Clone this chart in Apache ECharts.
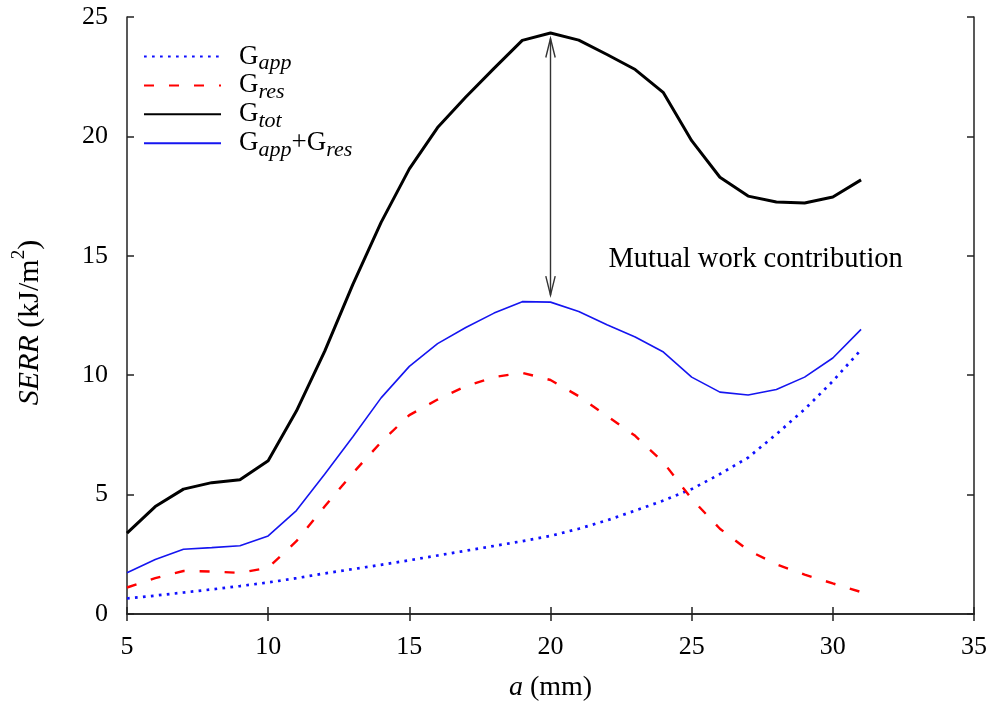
<!DOCTYPE html>
<html>
<head>
<meta charset="utf-8">
<script src="https://cdn.jsdelivr.net/npm/echarts@6/dist/echarts.min.js"></script>
<style>
  html, body { margin: 0; padding: 0; background: #fff; }
  #chart { width: 997px; height: 707px; }
</style>
</head>
<body>
<div id="chart"></div>
<script>
// crack length a (mm)
const crackLength = [5, 6, 7, 8, 9, 10, 11, 12, 13, 14, 15, 16, 17, 18, 19, 20,
                     21, 22, 23, 24, 25, 26, 27, 28, 29, 30, 31];
// strain energy release rates (kJ/m^2)
const gApp = [0.65, 0.77, 0.9, 1.03, 1.17, 1.32, 1.5, 1.7, 1.88, 2.06, 2.25, 2.45, 2.65, 2.85, 3.05, 3.27,
              3.57, 3.92, 4.33, 4.75, 5.23, 5.86, 6.55, 7.53, 8.57, 9.75, 11.07];
const gRes = [1.11, 1.5, 1.8, 1.78, 1.72, 1.94, 3.05, 4.5, 5.9, 7.2, 8.33, 8.98, 9.54, 9.92, 10.1, 9.8,
              9.12, 8.29, 7.46, 6.35, 4.82, 3.57, 2.67, 2.08, 1.65, 1.28, 0.92];
const gTot = [3.39, 4.5, 5.23, 5.5, 5.62, 6.42, 8.5, 11.0, 13.8, 16.4, 18.64, 20.37, 21.65, 22.85, 24.02, 24.33,
              24.03, 23.43, 22.8, 21.83, 19.82, 18.29, 17.5, 17.25, 17.21, 17.46, 18.18];
const gSum = [1.73, 2.28, 2.71, 2.78, 2.86, 3.27, 4.33, 5.85, 7.42, 9.05, 10.37, 11.32, 12.0, 12.6, 13.08, 13.06,
              12.67, 12.11, 11.6, 10.97, 9.92, 9.29, 9.17, 9.4, 9.92, 10.72, 11.92];

const seriesNames = ['G_app', 'G_res', 'G_tot', 'G_app+G_res'];
const xTicks = [5, 10, 15, 20, 25, 30, 35];
const yTicks = [0, 5, 10, 15, 20, 25];

// double arrow marking the gap between total and summed components at a = 20
const arrowSpan = [[20, 24.1, 13.35]];
const annotation = [[22.05, 14.85, 'Mutual work contribution']];

const FONT = '"Liberation Serif", "DejaVu Serif", serif';

function pairs(ys) { return crackLength.map((x, i) => [x, ys[i]]); }

const legendRich = {
  g: { fontFamily: FONT, fontSize: 27, color: '#000', padding: [0, 0, 0, 13] },
  p: { fontFamily: FONT, fontSize: 27, color: '#000' },
  G: { fontFamily: FONT, fontSize: 27, color: '#000' },
  s: { fontFamily: FONT, fontSize: 22, fontStyle: 'italic', color: '#000', padding: [14, 0, 0, 0] }
};
function legendLabel(name) {
  if (name === 'G_app+G_res') return '{g|G}{s|app}{p|+}{G|G}{s|res}';
  return '{g|G}{s|' + name.split('_')[1] + '}';
}

const frameAxisLine = { show: true, lineStyle: { color: '#222', width: 1.5 } };
const frameTick = { show: true, inside: true, length: 7, lineStyle: { color: '#222', width: 1.5 } };

const chart = echarts.init(document.getElementById('chart'));
chart.setOption({
  animation: false,
  backgroundColor: '#fff',
  grid: { left: 127, right: 23, top: 17, bottom: 90 },
  legend: {
    data: seriesNames,
    orient: 'vertical',
    left: 143,
    top: 43,
    padding: 0,
    itemWidth: 77,
    itemHeight: 14,
    itemGap: -2.6,
    formatter: legendLabel,
    itemStyle: { opacity: 0, borderWidth: 0 },
    textStyle: { rich: legendRich }
  },
  xAxis: [{
    type: 'value', min: 5, max: 35, interval: 5, position: 'bottom',
    axisLine: frameAxisLine, axisTick: frameTick, splitLine: { show: false },
    axisLabel: { fontFamily: FONT, fontSize: 26, color: '#000', margin: 20,
                 formatter: v => xTicks.includes(v) ? String(v) : '' },
    name: '{i|a}{n| (mm)}', nameLocation: 'middle', nameGap: 60,
    nameTextStyle: { rich: {
      i: { fontFamily: FONT, fontSize: 28, fontStyle: 'italic', color: '#000' },
      n: { fontFamily: FONT, fontSize: 28, color: '#000' } } }
  }, {
    type: 'value', min: 5, max: 35, interval: 5, position: 'top',
    axisLine: frameAxisLine, axisTick: frameTick, axisLabel: { show: false }, splitLine: { show: false }
  }],
  yAxis: [{
    type: 'value', min: 0, max: 25, interval: 5, position: 'left',
    axisLine: frameAxisLine, axisTick: frameTick, splitLine: { show: false },
    axisLabel: { fontFamily: FONT, fontSize: 26, color: '#000', margin: 19,
                 formatter: v => yTicks.includes(v) ? String(v) : '' },
    name: '{i|SERR}{n| (kJ/m}{sup|2}{n|)}', nameLocation: 'middle', nameGap: 76, nameRotate: 90,
    nameTextStyle: { padding: [0, 14, 0, 0], rich: {
      i: { fontFamily: FONT, fontSize: 30, fontStyle: 'italic', color: '#000' },
      n: { fontFamily: FONT, fontSize: 30, color: '#000' },
      sup: { fontFamily: FONT, fontSize: 19, color: '#000', padding: [0, 0, 22, 0] } } }
  }, {
    type: 'value', min: 0, max: 25, interval: 5, position: 'right',
    axisLine: frameAxisLine, axisTick: frameTick, axisLabel: { show: false }, splitLine: { show: false }
  }],
  series: [
    { name: 'G_app', type: 'line', data: pairs(gApp), showSymbol: false, symbol: 'none',
      lineStyle: { color: '#1010ff', width: 2.7, type: [2.7, 5.3], cap: 'butt' }, itemStyle: { color: '#1010ff' } },
    { name: 'G_res', type: 'line', data: pairs(gRes), showSymbol: false, symbol: 'none',
      lineStyle: { color: '#ff0000', width: 2.4, type: [10, 15], cap: 'butt' }, itemStyle: { color: '#ff0000' } },
    { name: 'G_tot', type: 'line', data: pairs(gTot), showSymbol: false, symbol: 'none',
      lineStyle: { color: '#000', width: 3 }, itemStyle: { color: '#000' } },
    { name: 'G_app+G_res', type: 'line', data: pairs(gSum), showSymbol: false, symbol: 'none',
      lineStyle: { color: '#1515f0', width: 1.6 }, itemStyle: { color: '#1515f0' } },
    {
      name: 'arrow', type: 'custom', data: arrowSpan, silent: true,
      encode: { x: 0, y: [1, 2] },
      renderItem: function (params, api) {
        const top = api.coord([api.value(0), api.value(1)]);
        const bot = api.coord([api.value(0), api.value(2)]);
        const hw = 4.7, hl = 19;
        const st = { stroke: '#333', lineWidth: 1.4, fill: 'none' };
        return { type: 'group', children: [
          { type: 'line', shape: { x1: top[0], y1: top[1], x2: bot[0], y2: bot[1] }, style: st },
          { type: 'polyline', shape: { points: [[top[0] - hw, top[1] + hl], [top[0], top[1]], [top[0] + hw, top[1] + hl]] }, style: st },
          { type: 'polyline', shape: { points: [[bot[0] - hw, bot[1] - hl], [bot[0], bot[1]], [bot[0] + hw, bot[1] - hl]] }, style: st }
        ] };
      }
    },
    {
      name: 'note', type: 'custom', data: annotation, silent: true,
      encode: { x: 0, y: 1 },
      renderItem: function (params, api) {
        const p = api.coord([api.value(0), api.value(1)]);
        return { type: 'text', x: p[0], y: p[1],
          style: { text: annotation[params.dataIndex][2], font: '28.5px ' + FONT, fill: '#000',
                   align: 'left', verticalAlign: 'middle' } };
      }
    }
  ]
});
</script>
</body>
</html>
